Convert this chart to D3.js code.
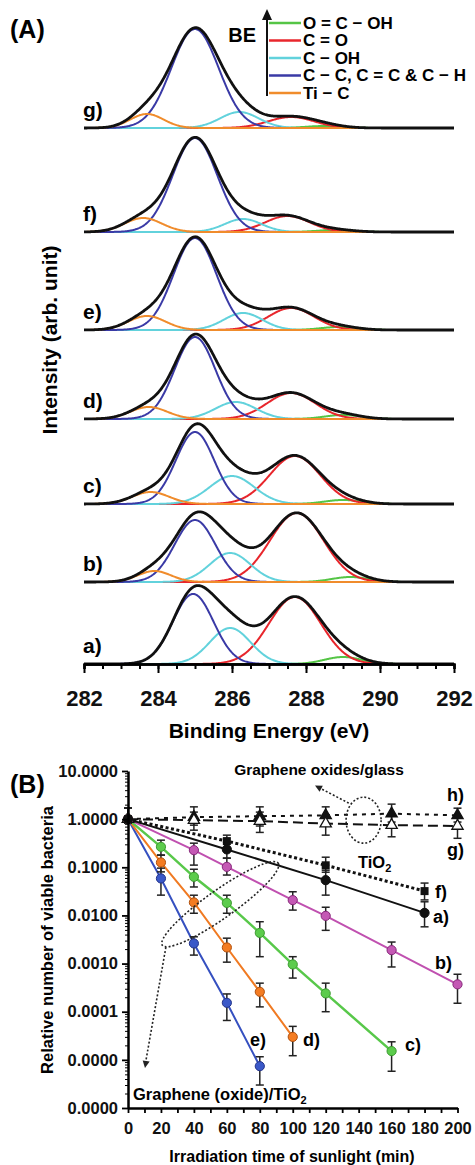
<!DOCTYPE html>
<html><head><meta charset="utf-8">
<script src="https://cdn.jsdelivr.net/npm/d3@7"></script>
<style>
body{margin:0;background:#fff;}
svg{display:block;font-family:"Liberation Sans",Arial,sans-serif;font-weight:bold;}
</style></head><body>
<svg id="fig" width="475" height="1165"></svg>
<script>
// ---------- Panel A: C1s spectra with fitted components ----------
const spectra = ["a)", "b)", "c)", "d)", "e)", "f)", "g)"];
const offsets = [0, 82, 160, 245, 334, 432, 536];
const components = ["O = C − OH", "C = O", "C − OH", "C − C, C = C & C − H", "Ti − C"];
const componentColors = ["#55c546", "#e8262c", "#62d2dc", "#3a3aa6", "#f08c2c"];
// peak centres (eV), rows a..g, columns in component order
const centers = [
  [289.0, 287.7, 285.95, 284.95, 283.8],
  [289.2, 287.75, 285.95, 285.0, 283.9],
  [289.0, 287.7, 286.0, 285.0, 283.8],
  [289.0, 287.6, 286.1, 285.0, 283.75],
  [288.9, 287.6, 286.3, 285.0, 283.7],
  [288.8, 287.5, 286.3, 285.0, 283.6],
  [288.5, 287.6, 286.2, 285.0, 283.7]
];
// peak heights (arb. unit)
const amplitudes = [
  [7, 67, 36, 70, 0],
  [5, 69, 29, 62, 11],
  [4, 48, 28, 72, 12],
  [4, 26, 17, 82, 12],
  [3, 22, 17, 92, 14],
  [2, 16, 13, 94, 14],
  [2, 11, 16, 99, 14]
];
// gaussian widths (eV)
const widths = [
  [0.5, 0.7, 0.55, 0.55, 0.45],
  [0.5, 0.72, 0.55, 0.55, 0.45],
  [0.5, 0.68, 0.6, 0.52, 0.5],
  [0.5, 0.65, 0.55, 0.55, 0.5],
  [0.5, 0.62, 0.52, 0.58, 0.5],
  [0.5, 0.6, 0.5, 0.6, 0.5],
  [0.5, 0.62, 0.52, 0.64, 0.45]
];
const energyTicks = [282, 284, 286, 288, 290, 292];

// ---------- Panel B: survival curves ----------
const tA = [0, 60, 120, 180],            vA = [1, 0.235, 0.054, 0.0113];
const loA = [0.83, 0.155, 0.0264, 0.0058], hiA = [1.69, 0.333, 0.087, 0.0192];
const tF = [0, 60, 120, 180],            vF = [1, 0.35, 0.11, 0.032];
const loF = [0.83, 0.25, 0.079, 0.021],   hiF = [1.69, 0.465, 0.162, 0.047];
const tB = [0, 40, 60, 100, 120, 160, 200], vB = [1, 0.227, 0.102, 0.0208, 0.0098, 0.0019, 0.00037];
const loB = [0.83, 0.111, 0.069, 0.0129, 0.0049, 0.00085, 0.00015];
const hiB = [1.69, 0.317, 0.155, 0.031, 0.0148, 0.0028, 0.0006];
const tC = [0, 20, 40, 60, 80, 100, 120, 160], vC = [1, 0.266, 0.0633, 0.0182, 0.00434, 0.00096, 0.00024, 0.0000152];
const loC = [0.83, 0.179, 0.039, 0.0111, 0.00139, 0.0005, 0.0001, 0.0000058];
const hiC = [1.69, 0.366, 0.091, 0.0263, 0.0074, 0.00139, 0.000392, 0.0000237];
const tD = [0, 20, 40, 60, 80, 100],     vD = [1, 0.126, 0.0186, 0.00216, 0.000259, 0.00003];
const loD = [0.83, 0.0803, 0.0111, 0.00107, 0.000126, 0.0000122];
const hiD = [1.69, 0.179, 0.0263, 0.00337, 0.000392, 0.0000496];
const tE = [0, 20, 40, 60, 80],          vE = [1, 0.0587, 0.00262, 0.000153, 0.0000074];
const loE = [0.83, 0.0264, 0.0015, 0.0000658, 0.000003];
const hiE = [1.69, 0.096, 0.0036, 0.000234, 0.0000116];
const tH = [0, 40, 80, 120, 160, 200],   vH = [1, 1.1, 1.15, 1.2, 1.3, 1.2];
const loH = [0.83, 0.75, 0.72, 0.75, 0.87, 0.87], hiH = [1.69, 1.8, 1.8, 1.8, 2.05, 1.69];
const tG = [0, 40, 80, 120, 160, 200],   vG = [1, 0.95, 0.91, 0.81, 0.75, 0.72];
const loG = [0.83, 0.59, 0.53, 0.465, 0.43, 0.4], hiG = [1.69, 1.4, 1.4, 1.21, 1.21, 1.1];
const timeTicks = [0, 20, 40, 60, 80, 100, 120, 140, 160, 180, 200];
const decadeTicks = [10, 1, 0.1, 0.01, 0.001, 0.0001, 0.00001, 0.000001];

const svg = d3.select("#fig");

// ======================= Panel A =======================
const xA = d3.scaleLinear().domain([282, 292]).range([84, 454]);
const yA = d3.scaleLinear().domain([0, 640]).range([664, 24]);
const grid = d3.range(282, 292.0001, 0.02);
const gauss = (e, c, a, s) => a * Math.exp(-((e - c) ** 2) / (2 * s * s));

const gA = svg.append("g");
spectra.forEach((name, i) => {
  const off = offsets[i];
  const line = d3.line().x(d => xA(d[0])).y(d => yA(d[1] + off));
  components.forEach((comp, j) => {
    if (amplitudes[i][j] <= 0) return;
    const pts = grid.map(e => [e, gauss(e, centers[i][j], amplitudes[i][j], widths[i][j])]);
    gA.append("path").attr("d", line(pts)).attr("fill", "none")
      .attr("stroke", componentColors[j]).attr("stroke-width", 2);
  });
  const total = grid.map(e => [e, d3.sum(components, (c, j) => gauss(e, centers[i][j], amplitudes[i][j], widths[i][j]))]);
  gA.append("path").attr("d", line(total)).attr("fill", "none")
    .attr("stroke", "#111").attr("stroke-width", 2.8).attr("stroke-linejoin", "round");
  gA.append("text").attr("x", 83).attr("y", yA(off + 18)).attr("dy", "0.35em")
    .attr("font-size", 21).text(name);
});

// x axis of panel A
const axA = svg.append("g").attr("transform", `translate(0,${yA(0)})`);
axA.call(d3.axisBottom(xA).tickValues(d3.range(282, 292.001, 0.5)).tickSize(5).tickFormat(""));
axA.call(g => g.selectAll(".tick line").attr("stroke-width", 2));
const axA2 = svg.append("g").attr("transform", `translate(0,${yA(0)})`)
  .call(d3.axisBottom(xA).tickValues(energyTicks).tickSize(9).tickSizeOuter(0).tickPadding(17).tickFormat(d3.format("d")));
axA2.selectAll(".tick line").attr("stroke-width", 2);
axA2.selectAll("text").attr("font-size", 22).attr("font-weight", "bold").attr("font-family", "Liberation Sans, Arial, sans-serif").attr("fill", "#111");
svg.selectAll(".domain").attr("stroke-width", 2.5);

svg.append("text").attr("x", 269).attr("y", 731).attr("dy", "0.35em").attr("text-anchor", "middle")
  .attr("font-size", 21).text("Binding Energy (eV)");
svg.append("text").attr("transform", "translate(50,340) rotate(-90)").attr("dy", "0.35em")
  .attr("text-anchor", "middle").attr("font-size", 21).text("Intensity (arb. unit)");
svg.append("text").attr("x", 10).attr("y", 29).attr("dy", "0.35em").attr("font-size", 25).text("(A)");

// legend with binding-energy arrow
const leg = svg.append("g");
leg.append("line").attr("x1", 267).attr("x2", 267).attr("y1", 96).attr("y2", 18)
  .attr("stroke", "#111").attr("stroke-width", 2);
leg.append("path").attr("d", "M262,20 L267,9 L272,20 Z").attr("fill", "#111");
leg.append("text").attr("x", 256).attr("y", 35).attr("dy", "0.35em").attr("text-anchor", "end")
  .attr("font-size", 20).text("BE");
const legY = d3.scalePoint().domain(components).range([23, 93]);
components.forEach((c, j) => {
  leg.append("line").attr("x1", 269).attr("x2", 301).attr("y1", legY(c)).attr("y2", legY(c))
    .attr("stroke", componentColors[j]).attr("stroke-width", 2.5);
  leg.append("text").attr("x", 303).attr("y", legY(c)).attr("dy", "0.35em")
    .attr("font-size", 17).text(c);
});

// ======================= Panel B =======================
const xB = d3.scaleLinear().domain([0, 200]).range([128, 457.5]);
const yB = d3.scaleLog().domain([1e-6, 10]).range([1108, 771]);
const gB = svg.append("g");

const series = [
  {name: "h)", t: tH, v: vH, lo: loH, hi: hiH, color: "#111", dash: "4,5", width: 2, sym: "tri", fill: "#111"},
  {name: "g)", t: tG, v: vG, lo: loG, hi: hiG, color: "#111", dash: "10,5", width: 2, sym: "tri", fill: "#fff"},
  {name: "e)", t: tE, v: vE, lo: loE, hi: hiE, color: "#3550c0", dash: null, width: 2, sym: "circle", fill: "#3a58c8", edge: "#24348a"},
  {name: "d)", t: tD, v: vD, lo: loD, hi: hiD, color: "#f07a22", dash: null, width: 2, sym: "circle", fill: "#f47c22", edge: "#b0500e"},
  {name: "c)", t: tC, v: vC, lo: loC, hi: hiC, color: "#58c84a", dash: null, width: 2.5, sym: "circle", fill: "#5ccc4c", edge: "#3c9a30"},
  {name: "b)", t: tB, v: vB, lo: loB, hi: hiB, color: "#c050b0", dash: null, width: 2, sym: "circle", fill: "#c458b4", edge: "#86287a"},
  {name: "f)", t: tF, v: vF, lo: loF, hi: hiF, color: "#111", dash: "3,2.5", width: 3, sym: "square", fill: "#111"},
  {name: "a)", t: tA, v: vA, lo: loA, hi: hiA, color: "#111", dash: null, width: 2, sym: "circle", fill: "#111", edge: "#111"}
];

const lineB = d3.line().x(d => xB(d.t)).y(d => yB(d.v));
series.forEach(s => {
  s.pts = s.t.map((t, k) => ({t, v: s.v[k], lo: s.lo[k], hi: s.hi[k]}));
  gB.append("path").attr("d", lineB(s.pts)).attr("fill", "none").attr("stroke", s.color)
    .attr("stroke-width", s.width).attr("stroke-dasharray", s.dash);
});
series.forEach(s => {
  s.pts.forEach(p => {
    const x = xB(p.t);
    gB.append("line").attr("x1", x).attr("x2", x).attr("y1", yB(p.lo)).attr("y2", yB(p.hi))
      .attr("stroke", "#222").attr("stroke-width", 1.5);
    [p.lo, p.hi].forEach(val => gB.append("line").attr("x1", x - 4).attr("x2", x + 4)
      .attr("y1", yB(val)).attr("y2", yB(val)).attr("stroke", "#222").attr("stroke-width", 1.5));
  });
});
series.forEach(s => {
  s.pts.forEach(p => {
    const x = xB(p.t), y = yB(p.v);
    if (s.sym === "circle") {
      gB.append("circle").attr("cx", x).attr("cy", y).attr("r", 4.6)
        .attr("fill", s.fill).attr("stroke", s.edge).attr("stroke-width", 1);
    } else if (s.sym === "square") {
      gB.append("rect").attr("x", x - 4).attr("y", y - 4).attr("width", 8).attr("height", 8).attr("fill", s.fill);
    } else {
      gB.append("path").attr("transform", `translate(${x},${y})`)
        .attr("d", d3.symbol(d3.symbolTriangle, 55)()).attr("fill", s.fill)
        .attr("stroke", "#111").attr("stroke-width", 1.3);
    }
  });
});

// axes of panel B
const axBx = svg.append("g").attr("transform", `translate(0,${yB(1e-6)})`)
  .call(d3.axisBottom(xB).tickValues(d3.range(0, 200.001, 10)).tickSize(5).tickSizeOuter(0)
    .tickFormat(d => timeTicks.includes(d) ? d : ""));
const axBy = svg.append("g").attr("transform", `translate(${xB(0)},0)`)
  .call(d3.axisLeft(yB).tickValues(decadeTicks).tickSize(6).tickSizeOuter(0).tickPadding(4).tickFormat(d3.format(".4f")));
const minor = [];
decadeTicks.slice(1).forEach(d => d3.range(2, 10).forEach(m => minor.push(d * m)));
svg.append("g").attr("transform", `translate(${xB(0)},0)`)
  .call(d3.axisLeft(yB).tickValues(minor).tickSize(3).tickFormat(""))
  .call(g => g.select(".domain").remove());
[axBx, axBy].forEach(a => {
  a.select(".domain").attr("stroke-width", 2.5);
  a.selectAll(".tick line").attr("stroke-width", 1.8);
  a.selectAll("text").attr("font-size", 16.5).attr("font-weight", "bold")
    .attr("font-family", "Liberation Sans, Arial, sans-serif").attr("fill", "#111");
});
axBx.selectAll("text").attr("dy", "1.1em");

svg.append("text").attr("x", 292).attr("y", 1156).attr("dy", "0.35em").attr("text-anchor", "middle")
  .attr("font-size", 16).text("Irradiation time of sunlight (min)");
svg.append("text").attr("transform", "translate(47,940) rotate(-90)").attr("dy", "0.35em")
  .attr("text-anchor", "middle").attr("font-size", 16.5).text("Relative number of viable bacteria");
svg.append("text").attr("x", 10).attr("y", 784).attr("dy", "0.35em").attr("font-size", 25).text("(B)");

// series labels at the curve ends
const endLabels = [["h)", 447, 795], ["g)", 447, 850], ["f)", 435, 892], ["a)", 433, 917],
  ["b)", 435, 963], ["c)", 405, 1045], ["d)", 303, 1040], ["e)", 250, 1040]];
endLabels.forEach(([t, x, y]) => svg.append("text").attr("x", x).attr("y", y).attr("dy", "0.35em")
  .attr("font-size", 18).text(t));

// annotations
const ann = svg.append("g").attr("fill", "none").attr("stroke", "#222").attr("stroke-width", 1.6)
  .attr("stroke-dasharray", "2,2");
ann.append("ellipse").attr("cx", xB(143)).attr("cy", yB(0.953)).attr("rx", 17.5).attr("ry", 23);
ann.append("line").attr("x1", xB(134)).attr("y1", yB(2.15)).attr("x2", xB(115.5)).attr("y2", yB(4.6));
ann.append("ellipse").attr("cx", 0).attr("cy", 0).attr("rx", 71).attr("ry", 14)
  .attr("transform", `translate(${xB(56)},${yB(0.0171)}) rotate(-35.3)`);
ann.append("line").attr("x1", xB(23)).attr("y1", yB(0.0022)).attr("x2", xB(10.6)).attr("y2", yB(0.0000085));
// arrowheads
const head = (x1, y1, x2, y2) => {
  const a = Math.atan2(y2 - y1, x2 - x1), L = 7, w = 3.5;
  const bx = x2 - L * Math.cos(a), by = y2 - L * Math.sin(a);
  svg.append("path").attr("d", `M${x2},${y2} L${bx - w * Math.sin(a)},${by + w * Math.cos(a)} L${bx + w * Math.sin(a)},${by - w * Math.cos(a)} Z`)
    .attr("fill", "#222");
};
head(xB(134), yB(2.15), xB(113.5), yB(5.0));
head(xB(23), yB(0.0022), xB(10.3), yB(0.0000068));

svg.append("text").attr("x", 319).attr("y", 770).attr("dy", "0.35em").attr("text-anchor", "middle")
  .attr("font-size", 15.5).text("Graphene oxides/glass");
const tio = svg.append("text").attr("x", 358).attr("y", 862).attr("dy", "0.35em").attr("font-size", 16.5);
tio.append("tspan").text("TiO");
tio.append("tspan").attr("font-size", 11).attr("dy", "0.35em").text("2");
const gt = svg.append("text").attr("x", 133).attr("y", 1094).attr("dy", "0.35em").attr("font-size", 16.5);
gt.append("tspan").text("Graphene (oxide)/TiO");
gt.append("tspan").attr("font-size", 11).attr("dy", "0.35em").text("2");
</script>
</body></html>
